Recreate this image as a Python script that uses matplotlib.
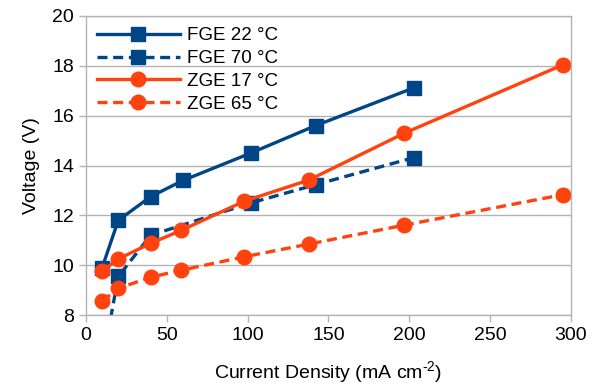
import matplotlib
matplotlib.use('Agg')
import matplotlib.pyplot as plt

# Fonts: Liberation Sans looks like the LibreOffice default
plt.rcParams['font.family'] = ['Liberation Sans', 'DejaVu Sans']
plt.rcParams['mathtext.fontset'] = 'custom'
plt.rcParams['mathtext.rm'] = 'Liberation Sans'
plt.rcParams['mathtext.default'] = 'regular'

# --------------------------------------------------------------------------- #
# Data
fge22_x = [10, 20, 40, 60, 102, 142, 203]
fge22_y = [9.9, 11.8, 12.75, 13.4, 14.5, 15.6, 17.12]

fge70_x = [10, 20, 40, 102, 142, 203]
fge70_y = [6.0, 9.55, 11.2, 12.5, 13.23, 14.32]

zge17_x = [10, 20, 40, 59, 98, 138, 197, 295]
zge17_y = [9.77, 10.25, 10.88, 11.4, 12.57, 13.42, 15.3, 18.04]

zge65_x = [10, 20, 40, 59, 98, 138, 197, 295]
zge65_y = [8.56, 9.07, 9.52, 9.8, 10.34, 10.85, 11.61, 12.83]

blue = '#004586'
orange = '#ff420e'
grey = '#b3b3b3'

# --------------------------------------------------------------------------- #
fig = plt.figure(figsize=(6.01, 3.89), dpi=100)
ax = fig.add_axes([0.143, 0.190, 0.807, 0.769])

lw = 2.4
ms = 10.5
dash = (3, 1.7)

ax.plot(fge22_x, fge22_y, color=blue, lw=lw, marker='s', ms=ms, label='FGE 22 °C')
ax.plot(fge70_x, fge70_y, color=blue, lw=lw, marker='s', ms=ms, dashes=dash, label='FGE 70 °C')
ax.plot(zge17_x, zge17_y, color=orange, lw=lw, marker='o', ms=ms, label='ZGE 17 °C')
ax.plot(zge65_x, zge65_y, color=orange, lw=lw, marker='o', ms=ms, dashes=dash, label='ZGE 65 °C')

ax.set_xlim(0, 300)
ax.set_ylim(8, 20)
ax.set_xticks(range(0, 301, 50))
ax.set_yticks(range(8, 21, 2))
ax.yaxis.grid(True, color=grey, lw=1)
ax.set_axisbelow(True)

for s in ax.spines.values():
    s.set_color(grey)
    s.set_linewidth(1)
ax.tick_params(colors=grey, labelcolor='black', labelsize=14, length=5, width=1)

ax.set_xlabel(r'Current Density (mA cm$^{\text{-}2}$)', fontsize=14, labelpad=11)
ax.set_ylabel('Voltage (V)', fontsize=14, labelpad=9)

leg = ax.legend(loc='upper left', frameon=False, fontsize=13.5, handlelength=4.4,
                handletextpad=0.4, labelspacing=0.3, borderaxespad=0.2,
                bbox_to_anchor=(0.0, 1.0))

fig.savefig('out.png', dpi=100)
